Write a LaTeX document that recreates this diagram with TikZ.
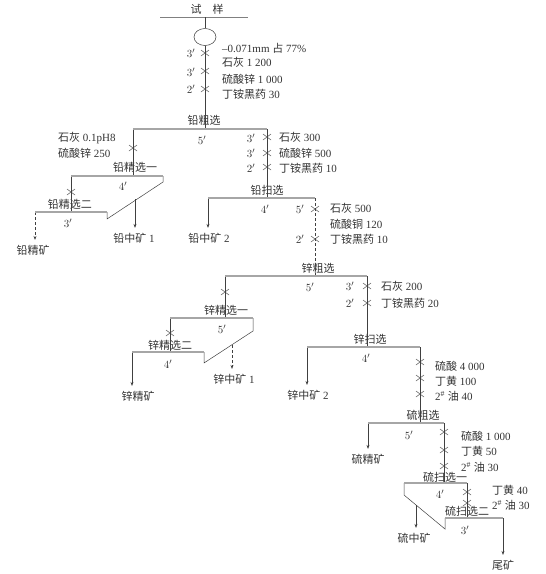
\documentclass[tikz,border=0pt]{standalone}
\usepackage{fontspec}
\setmainfont{Liberation Serif}
\newfontfamily\cjk{Noto Sans CJK SC}
\newcommand{\zh}[1]{{\cjk #1}}
\usetikzlibrary{arrows.meta,shapes.geometric}

\begin{document}
\begin{tikzpicture}[x=1pt, y=-1pt, font=\fontsize{11}{13}\selectfont, text=black!80,
    cell/.style={draw=black!85, line width=0.5pt, double=black!35, double distance=1.2pt},
    flow/.style={draw=black!75, line width=0.5pt},
    prod/.style={flow, -{Stealth[length=4pt, width=3pt]}},
    dose/.style={draw=black!75, line width=0.45pt},
    lbl/.style={inner sep=0pt},
    prodlbl/.style={inner sep=0pt, outer sep=5pt},
    reag/.style={inner sep=0pt, anchor=west}]
    \useasboundingbox (0,0) rectangle (546,574);

    % Zulauf und Mahlung
    \node[lbl] (feed) at (207,9) {\zh{试\quad 样}};
    \coordinate (feedL) at (160,17);
    \coordinate (feedR) at (248,17);
    \coordinate (feedM) at (205,17);
    \draw[flow, black!50] (feedL) -- (feedR);
    \node[draw=black!80, line width=0.5pt, ellipse, minimum width=22pt, minimum height=17pt, inner sep=0pt] (mill) at (205,37) {};
    \draw[flow] (feedM) -- (mill.north);

    % Blei: Grob-, Reinigungs- und Nachflotation
    \coordinate (pbR-l) at (133,129);
    \coordinate (pbR-m) at (205,129);
    \coordinate (pbR-r) at (267,129);
    \coordinate (pbC1-l) at (71,176);
    \coordinate (pbC1-r) at (163,176);
    \coordinate (pbC1-b) at (163,182);
    \coordinate (pbC2-b) at (107,219);
    \coordinate (pbC2-r) at (107,212);
    \coordinate (pbC2-l) at (35,212);
    \coordinate (pbMid1s) at (135,199);
    \coordinate (pbS-l) at (208,198);
    \coordinate (pbS-r) at (315,198);

    \node[lbl] (pbR) at (204,120) {\zh{铅粗选}};
    \node[lbl] (pbC1) at (135,167) {\zh{铅精选一}};
    \node[lbl] (pbC2) at (70,204) {\zh{铅精选二}};
    \node[lbl] (pbS) at (267,190) {\zh{铅扫选}};
    \node[prodlbl] (pbConc) at (33,250) {\zh{铅精矿}};
    \node[prodlbl] (pbMid1) at (134,238) {\zh{铅中矿} 1};
    \node[prodlbl] (pbMid2) at (209,238) {\zh{铅中矿} 2};

    \draw[flow] (mill.south) -- (pbR-m);
    \draw[flow] (pbR-l) -- (pbR-l |- pbC1-l);
    \draw[flow] (pbR-r) -- (pbS-r -| pbR-r);
    \draw[flow] (pbC1-l) -- (pbC2-l -| pbC1-l);
    \draw[flow] (pbC1-r) -- (pbC1-b) -- (pbC2-b) -- (pbC2-r);
    \draw[prod] (pbMid1s) -- (pbMid1s |- pbMid1.north);
    \draw[prod, densely dashed] (pbC2-l) -- (pbC2-l |- pbConc.north);
    \draw[prod] (pbS-l) -- (pbS-l |- pbMid2.north);
    \draw[cell] (pbR-l) -- (pbR-r);
    \draw[cell] (pbC1-l) -- (pbC1-r);
    \draw[cell] (pbC2-l) -- (pbC2-r);
    \draw[cell] (pbS-l) -- (pbS-r);

    % Zink: Grob-, Reinigungs- und Nachflotation
    \coordinate (znR-l) at (225,276);
    \coordinate (znR-m) at (315,276);
    \coordinate (znR-r) at (367,276);
    \coordinate (znC1-l) at (170,318);
    \coordinate (znC1-r) at (253,318);
    \coordinate (znC1-b) at (253,331);
    \coordinate (znC2-b) at (204,363);
    \coordinate (znC2-r) at (204,352);
    \coordinate (znC2-l) at (132,352);
    \coordinate (znMid1s) at (232,345);
    \coordinate (znS-l) at (307,347);
    \coordinate (znS-r) at (420,347);

    \node[lbl] (znR) at (318,268) {\zh{锌粗选}};
    \node[lbl] (znC1) at (226,310) {\zh{锌精选一}};
    \node[lbl] (znC2) at (170,345) {\zh{锌精选二}};
    \node[lbl] (znS) at (370,339) {\zh{锌扫选}};
    \node[prodlbl] (znConc) at (138,396) {\zh{锌精矿}};
    \node[prodlbl] (znMid1) at (234,379) {\zh{锌中矿} 1};
    \node[prodlbl] (znMid2) at (308,395) {\zh{锌中矿} 2};

    \draw[flow, densely dashed] (pbS-r) -- (znR-m);
    \draw[flow] (znR-l) -- (znC1-l -| znR-l);
    \draw[flow] (znR-r) -- (znS-r -| znR-r);
    \draw[flow] (znC1-l) -- (znC2-l -| znC1-l);
    \draw[flow] (znC1-r) -- (znC1-b) -- (znC2-b) -- (znC2-r);
    \draw[prod, densely dashed] (znMid1s) -- (znMid1s |- znMid1.north);
    \draw[prod] (znC2-l) -- (znC2-l |- znConc.north);
    \draw[prod] (znS-l) -- (znS-l |- znMid2.north);
    \draw[cell] (znR-l) -- (znR-r);
    \draw[cell] (znC1-l) -- (znC1-r);
    \draw[cell] (znC2-l) -- (znC2-r);
    \draw[cell] (znS-l) -- (znS-r);

    % Schwefel: Grobflotation und zwei Nachflotationen
    \coordinate (sR-l) at (368,423);
    \coordinate (sR-m) at (420,423);
    \coordinate (sR-r) at (444,423);
    \coordinate (sS1-l) at (404,483);
    \coordinate (sS1-r) at (467,483);
    \coordinate (sS1-b) at (404,495);
    \coordinate (sS2-b) at (445,529);
    \coordinate (sS2-l) at (445,518);
    \coordinate (sS2-r) at (503,518);
    \coordinate (sMids) at (416,505);

    \node[lbl] (sR) at (423,415) {\zh{硫粗选}};
    \node[lbl] (sS1) at (445,477) {\zh{硫扫选一}};
    \node[lbl] (sS2) at (467,511) {\zh{硫扫选二}};
    \node[prodlbl] (sConc) at (368,459) {\zh{硫精矿}};
    \node[prodlbl] (sMid) at (414,538) {\zh{硫中矿}};
    \node[prodlbl] (tail) at (503,565) {\zh{尾矿}};

    \draw[flow] (znS-r) -- (sR-m);
    \draw[flow] (sR-r) -- (sS1-r -| sR-r);
    \draw[flow] (sS1-r) -- (sS2-r -| sS1-r);
    \draw[flow] (sS1-l) -- (sS1-b) -- (sS2-b) -- (sS2-l);
    \draw[prod] (sMids) -- (sMids |- sMid.north);
    \draw[prod] (sR-l) -- (sR-l |- sConc.north);
    \draw[prod] (sS2-r) -- (sS2-r |- tail.north);
    \draw[cell] (sR-l) -- (sR-r);
    \draw[cell] (sS1-l) -- (sS1-r);
    \draw[cell] (sS2-l) -- (sS2-r);

    % Reagenzzugabe (Kreuze) und Zeiten
    \foreach \x/\y in {205/53, 205/71, 205/89, 133/148, 267/137, 267/153, 267/167,
        71/192, 315/209, 315/239, 225/292, 367/286, 367/303, 170/333,
        420/362, 420/378, 420/394, 444/432, 444/450, 444/466, 467/492, 467/503}
        \draw[dose] (\x-4,\y-3) -- (\x+4,\y+3) (\x-4,\y+3) -- (\x+4,\y-3);
    \foreach \x/\y/\t [count=\i] in {191/53/3, 191/72/3, 191/89/2, 202/140/5, 251/138/3,
        251/153/3, 251/168/2, 123/186/4, 68/223/3, 265/209/4, 300/209/5, 300/239/2,
        310/287/5, 350/286/3, 350/303/2, 222/329/5, 168/364/4, 366/358/4, 409/435/5,
        440/494/4, 465/530/3}
        \node[lbl] (time\i) at (\x,\y) {$\t'$};

    % Reagenzien
    \node[reag] (rg1) at (222,48) {\textendash 0.071mm \zh{占} 77\%};
    \node[reag] (rg2) at (222,62) {\zh{石灰} 1 200};
    \node[reag] (rg3) at (222,79) {\zh{硫酸锌} 1 000};
    \node[reag] (rg4) at (222,94) {\zh{丁铵黑药} 30};
    \node[reag] (rg5) at (279,137) {\zh{石灰} 300};
    \node[reag] (rg6) at (279,153) {\zh{硫酸锌} 500};
    \node[reag] (rg7) at (279,168) {\zh{丁铵黑药} 10};
    \node[reag] (rg8) at (58,138) {\zh{石灰} 0.1pH8};
    \node[reag] (rg9) at (58,153) {\zh{硫酸锌} 250};
    \node[reag] (rg10) at (330,208) {\zh{石灰} 500};
    \node[reag] (rg11) at (330,224) {\zh{硫酸铜} 120};
    \node[reag] (rg12) at (330,239) {\zh{丁铵黑药} 10};
    \node[reag] (rg13) at (381,286) {\zh{石灰} 200};
    \node[reag] (rg14) at (381,303) {\zh{丁铵黑药} 20};
    \node[reag] (rg15) at (435,366) {\zh{硫酸} 4 000};
    \node[reag] (rg16) at (435,381) {\zh{丁黄} 100};
    \node[reag] (rg17) at (435,396) {2\textsuperscript{\#} \zh{油} 40};
    \node[reag] (rg18) at (461,436) {\zh{硫酸} 1 000};
    \node[reag] (rg19) at (461,451) {\zh{丁黄} 50};
    \node[reag] (rg20) at (461,467) {2\textsuperscript{\#} \zh{油} 30};
    \node[reag] (rg21) at (492,490) {\zh{丁黄} 40};
    \node[reag] (rg22) at (492,505) {2\textsuperscript{\#} \zh{油} 30};
\end{tikzpicture}
\end{document}
